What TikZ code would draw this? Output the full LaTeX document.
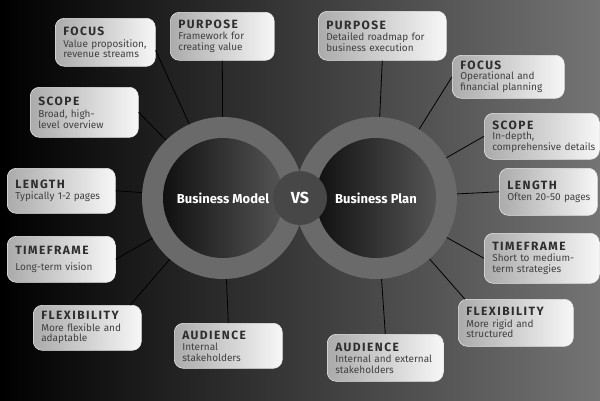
\documentclass[tikz,border=0pt]{standalone}
\usepackage{fontspec}
\setmainfont{Fira Sans}
\definecolor{boxl}{HTML}{ABABAB}
\definecolor{boxr}{HTML}{F7F7F7}
\definecolor{ringc}{HTML}{6A6A6A}
\definecolor{corel}{HTML}{101010}
\definecolor{corer}{HTML}{555555}
\definecolor{vsc}{HTML}{474747}
\definecolor{bgr}{HTML}{747474}
\definecolor{txt}{HTML}{404040}
\definecolor{ttlc}{HTML}{2E2E2E}
\newcommand\ttl[1]{{\fontsize{12}{13}\selectfont\bfseries\color{ttlc}\addfontfeatures{LetterSpace=12}#1}}
\tikzset{
 infobox/.style={rounded corners=9pt, left color=boxl, right color=boxr, draw=white!80!gray, line width=0.6pt, align=left, inner xsep=8pt, inner ysep=3pt, text=txt, font=\fontsize{10}{10.5}\selectfont, anchor=north west},
 conn/.style={draw=black, line width=0.8pt},
 ring/.style={circle, fill=ringc, minimum size=162pt, inner sep=0pt},
 core/.style={circle, left color=corel, right color=corer, minimum size=120pt, inner sep=0pt, text=white, font=\fontsize{13}{15}\selectfont\bfseries},
 vs/.style={circle, fill=vsc, minimum size=54pt, inner sep=0pt, text=white, font=\fontsize{16}{18}\selectfont\bfseries}
}
\begin{document}
\begin{tikzpicture}[x=1pt,y=-1pt]
\useasboundingbox (0,0) rectangle (600,400);
\shade[left color=black, right color=bgr] (0,0) rectangle (600,400);
% rings
\node[ring] (ringL) at (223,198) {};
\node[ring] (ringR) at (376,198) {};
\node[core] (coreL) at (223,198) {Business Model};
\node[core] (coreR) at (376,198) {Business Plan};
\node[vs] (vs) at (300,198) {VS};
% left boxes
\node[infobox, text width=84pt, minimum height=48pt] (lfocus) at (55,18) {\ttl{FOCUS}\\[1pt]\mbox{Value proposition,}\\revenue streams};
\node[infobox, text width=88pt, minimum height=48pt] (lpurpose) at (170,12) {\ttl{PURPOSE}\\[1pt]Framework for\\creating value};
\node[infobox, text width=92pt, minimum height=50pt] (lscope) at (30,87) {\ttl{SCOPE}\\[2pt]Broad, high-\\level overview};
\node[infobox, text width=92pt, minimum height=45pt] (llength) at (7,168) {\ttl{LENGTH}\\[0pt]\mbox{Typically 1-2 pages}};
\node[infobox, text width=92pt, minimum height=46pt] (ltime) at (7,236) {\ttl{TIMEFRAME}\\[5pt]Long-term vision};
\node[infobox, text width=92pt, minimum height=45pt] (lflex) at (33,305) {\ttl{FLEXIBILITY}\\[1pt]\mbox{More flexible and}\\adaptable};
\node[infobox, text width=92pt, minimum height=45pt] (laud) at (174,323) {\ttl{AUDIENCE}\\[1pt]Internal\\stakeholders};
% right boxes
\node[infobox, text width=112pt, minimum height=49pt] (rpurpose) at (318,11) {\ttl{PURPOSE}\\[1pt]\mbox{Detailed roadmap for}\\business execution};
\node[infobox, text width=96pt, minimum height=43pt] (rfocus) at (452,55) {\ttl{FOCUS}\\[0pt]Operational and\\\mbox{financial planning}};
\node[infobox, text width=99pt, minimum height=46pt] (rscope) at (484,113) {\ttl{SCOPE}\\[0pt]In-depth,\\\mbox{comprehensive details}};
\node[infobox, text width=82pt, minimum height=47pt] (rlength) at (499,168) {\ttl{LENGTH}\\[1pt]\mbox{Often 20-50 pages}};
\node[infobox, text width=99pt, minimum height=50pt] (rtime) at (484,233) {\ttl{TIMEFRAME}\\[1pt]\mbox{Short to medium-}\\term strategies};
\node[infobox, text width=99pt, minimum height=47pt] (rflex) at (458,299) {\ttl{FLEXIBILITY}\\[1pt]More rigid and\\structured};
\node[infobox, text width=100pt, minimum height=47pt] (raud) at (327,334) {\ttl{AUDIENCE}\\[1pt]\mbox{Internal and external}\\stakeholders};
% connectors
\draw[conn] (lfocus.-9) -- (ringL);
\draw[conn] (lpurpose.south) -- (ringL);
\draw[conn] (lscope.east) -- (ringL);
\draw[conn] (llength.east) -- (ringL);
\draw[conn] (ltime.east) -- (ringL);
\draw[conn] (lflex.28) -- (ringL);
\draw[conn] (laud.north) -- (ringL);
\draw[conn] (rpurpose.south) -- (ringR);
\draw[conn] (rfocus.west) -- (ringR);
\draw[conn] (rscope.west) -- (ringR);
\draw[conn] (rlength.west) -- (ringR);
\draw[conn] (rtime.west) -- (ringR);
\draw[conn] (rflex.155) -- (ringR);
\draw[conn] (raud.north) -- (ringR);
\end{tikzpicture}
\end{document}
